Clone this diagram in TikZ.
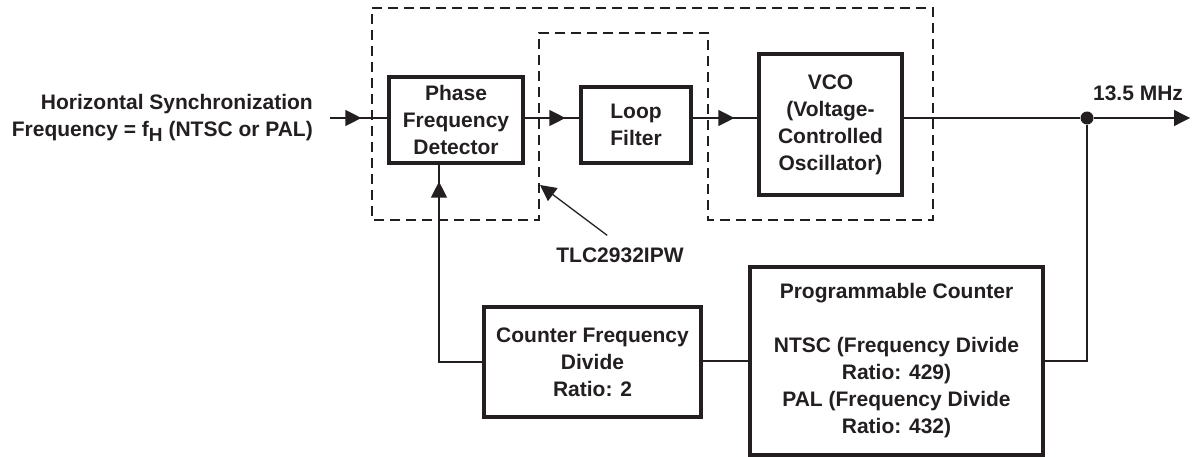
\documentclass[tikz,border=0pt]{standalone}
\usepackage{fontspec}
\setmainfont{Liberation Sans}
\usetikzlibrary{arrows.meta,positioning,decorations.markings}
\definecolor{ink}{RGB}{35,31,32}

\tikzset{
  blk/.style={draw=ink,line width=3.2pt,align=center,inner sep=0pt},
  wire/.style={draw=ink,line width=1.3pt},
  dashbox/.style={draw=ink,line width=1.1pt,dash pattern=on 10pt off 6pt},
  head/.style={-{Triangle[length=16pt,width=16pt]}},
  midhead/.style={postaction={decorate},decoration={markings,
      mark=at position #1 with {\arrow{Triangle[length=16pt,width=16pt]}}}},
}

\begin{document}
\begin{tikzpicture}[x=1pt,y=-1pt,text=ink,font=\fontsize{21}{27}\selectfont\bfseries]
  \useasboundingbox (0,0) rectangle (1198,457);
  % the TLC2932 outline, loop filter left out
  \draw[dashbox] (372,8) -- (933,8) -- (933,220) -- (708,220) -- (708,33)
    -- (539,33) -- (539,220) -- (372,220) -- cycle;
  \node[blk,minimum width=134pt,minimum height=86pt] (pfd) at (456,120) {Phase\\Frequency\\Detector};
  \node[blk,minimum width=110pt,minimum height=76pt] (lf) at (636,125) {Loop\\Filter};
  \node[blk,minimum width=143pt,minimum height=141pt] (vco) at (830.5,124.5) {VCO\\(Voltage-\\Controlled\\Oscillator)};
  \node[blk,minimum width=217pt,minimum height=110pt] (cfd) at (592.5,362) {Counter Frequency\\Divide\\Ratio: 2};
  \node[blk,minimum width=293pt,minimum height=188pt] (pc) at (896.5,361)
    {Programmable Counter\\[27pt]NTSC (Frequency Divide\\Ratio: 429)\\PAL (Frequency Divide\\Ratio: 432)};
  \node[anchor=east,align=right,inner sep=0pt] (in) at (313,118)
    {Horizontal Synchronization\\Frequency = f\raisebox{-5pt}{\fontsize{19}{19}\selectfont H} (NTSC or PAL)};
  \node[circle,fill=ink,inner sep=0pt,minimum size=13pt] (dot) at (1087,118) {};
  \coordinate (out) at (1190,118);
  \node[inner sep=0pt] (mhz) at (1138,93) {13.5 MHz};
  \node[inner sep=0pt] (tlc) at (620,255) {TLC2932IPW};
  \coordinate (notch) at (540,185);
  % forward path
  \draw[wire,midhead=-26pt] ([xshift=17pt]in.east) -- (in.east -| pfd.west);
  \draw[wire,midhead=-14pt] (pfd.east |- in.east) -- (lf.west |- in.east);
  \draw[wire,midhead=-23pt] (lf.east |- in.east) -- (vco.west |- in.east);
  \draw[wire] (vco.east |- dot) -- (dot);
  \draw[wire,head] (dot) -- (out);
  % feedback path
  \draw[wire] (dot) |- (pc.east);
  \draw[wire] (pc.west) -- (pc.west -| cfd.east);
  \draw[wire,midhead=-17pt] (cfd.west) -| ([xshift=-17pt]pfd.south);
  \draw[wire,head] (tlc.north west) ++(51,-12) -- (notch);
\end{tikzpicture}
\end{document}
